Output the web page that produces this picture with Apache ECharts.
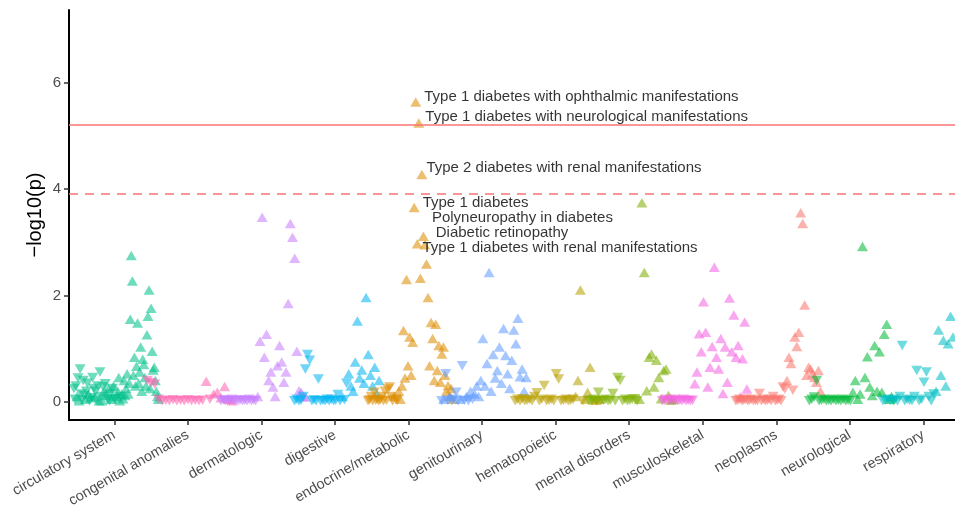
<!DOCTYPE html>
<html><head><meta charset="utf-8">
<script src="https://cdn.jsdelivr.net/npm/echarts@6/dist/echarts.min.js"></script>
<style>html,body{margin:0;padding:0;background:#fff}#c{width:955px;height:510px}</style>
</head><body><div id="c"></div>
<script>
// Phenotype groups (x-axis tick labels)
const categories = ['circulatory system','congenital anomalies','dermatologic','digestive','endocrine/metabolic','genitourinary','hematopoietic','mental disorders','musculoskeletal','neoplasms','neurological','respiratory'];

// Values per phenotype, in plotted order: magnitude = -log10(p);
// sign = direction of effect (+ : up-triangle, - : down-triangle)
const circulatory = [-0.25,-0.05,-0.3,0.1,-0.45,0.02,-0.62,-0.15,-0.04,-0.4,
  -0.12,0.05,-0.2,-0.35,0.15,-0.02,0.08,-0.08,-0.46,-0.25,
  0.1,-0.2,-0.03,-0.3,0.02,-0.56,-0.1,0.02,-0.28,0.2,
  -0.34,0.12,-0.05,0.25,-0.02,-0.15,0.05,-0.25,0.3,-0.05,
  -0.06,0.1,0.2,0.46,0.02,-0.1,0.15,0.06,0.4,0.12,
  0.25,0.53,0.15,0.35,1.55,2.75,2.27,0.5,0.84,0.3,0.67,1.48,0.35,0.56,1.03,0.2,
  0.8,0.7,0.46,0.3,1.26,1.61,2.10,0.25,1.76,0.95,0.6,0.65,0.4,0.2,0.1,0.05];
const congenital = [-0.40,-0.36,-0.33,-0.05,-0.02,-0.03,-0.02,-0.04,-0.02,-0.03,-0.02,-0.04,-0.02,-0.03,-0.02,-0.03,0.39,-0.05,0.15,0.18,0.08,0.29,0.05,0.02];
const dermatologic = [-0.02,-0.04,-0.02,-0.03,-0.02,-0.05,-0.02,-0.03,-0.02,-0.04,-0.02,-0.03,-0.02,-0.05,-0.02,-0.03,-0.02,0.1,1.14,3.47,0.84,1.27,0.4,0.56,0.28,0.1,0.68,1.06,0.75,0.37,0.56,1.85,3.35,3.09,2.70,0.95,0.21,0.18,0.09,0.1];
const digestive = [-0.02,-0.05,-0.02,-0.03,-0.1,-0.62,-0.89,-0.78,-0.02,-0.04,-0.02,-0.43,-0.02,-0.03,-0.02,-0.05,-0.02,-0.05,-0.02,-0.03,-0.14,-0.02,0.1,-0.04,-0.35,0.53,0.3,0.2,0.75,1.52,0.45,0.6,0.35,1.96,0.89,0.5,0.3,0.65,0.15,0.4];
const endocrine = [-0.02,-0.04,-0.1,-0.02,-0.18,-0.03,-0.05,-0.02,-0.04,-0.1,-0.02,-0.2,-0.03,-0.24,-0.28,-0.1,-0.02,0.1,-0.05,-0.03,0.2,
  0.05,0.3,1.34,0.45,2.30,0.68,1.22,0.5,1.12,3.65,5.63,2.97,5.24,2.32,4.27,3.11,2.95,2.59,1.96,0.68,1.49,1.19,0.4,1.46,0.59,1.06,0.37,0.9,1.03,0.5,0.2,0.31,0.1,0.25,0.05];
const genitourinary = [-0.02,0.05,-0.53,-0.03,0.1,-0.02,-0.05,-0.18,-0.02,0.05,-0.68,-0.03,0.1,-0.02,0.2,-0.05,0.15,0.3,0.1,0.4,1.19,0.3,0.72,2.43,0.2,0.89,0.45,0.59,1.03,0.35,1.38,0.87,0.53,0.25,0.78,1.35,1.09,1.57,0.47,0.62,0.2,0.46];
const hematopoietic = [-0.02,-0.05,-0.02,-0.06,-0.02,-0.03,-0.05,-0.02,-0.1,-0.17,-0.02,-0.05,-0.31,-0.02,-0.03,-0.05,-0.02,-0.53,-0.43,-0.02,-0.03,-0.05,-0.02,-0.03,-0.05,0.1,0.40,2.10,-0.02,0.05,0.18,0.65,-0.02,0.03,-0.02,0.05];
const mental = [-0.02,-0.03,-0.05,-0.02,-0.18,-0.02,-0.03,-0.05,-0.02,-0.03,-0.16,-0.02,-0.46,-0.40,-0.02,-0.05,-0.02,-0.03,-0.05,-0.06,-0.02,0.05,3.74,2.43,0.21,0.84,0.9,0.28,0.78,0.46,0.06,0.59,0.62,0.12,0.03,0.05];
const musculoskeletal = [-0.02,-0.03,-0.05,-0.02,-0.03,-0.02,-0.05,-0.02,-0.03,-0.02,-0.05,-0.02,-0.03,-0.02,-0.03,0.34,0.56,1.28,0.94,1.88,1.31,0.28,0.65,1.04,2.53,0.84,0.62,1.19,0.16,1.03,0.37,1.95,0.94,1.63,0.84,1.06,0.09,0.81,1.50,0.24];
const neoplasms = [-0.02,-0.03,-0.05,-0.02,-0.03,-0.05,-0.02,-0.03,-0.05,-0.02,-0.03,-0.02,-0.16,-0.02,-0.05,-0.02,-0.03,-0.05,-0.02,-0.1,-0.02,-0.03,-0.05,-0.02,
  -0.28,-0.24,0.4,0.84,0.72,-0.22,1.22,1.04,1.31,3.55,3.35,1.82,0.5,0.65,0.62,0.53,0.46,0.37,0.59,0.2];
const neurological = [-0.02,-0.05,-0.09,-0.40,-0.02,-0.03,-0.05,-0.02,-0.03,-0.02,-0.05,-0.02,-0.03,-0.02,-0.05,-0.02,-0.03,-0.02,0.18,0.40,0.05,0.15,2.92,0.46,0.85,0.28,0.12,1.06,0.2,0.94,0.18,1.27,1.46,0.05,0.1,-0.02];
const respiratory = [-0.02,-0.03,-0.05,-0.02,-0.03,-0.05,-0.02,-0.1,-1.06,-0.02,-0.05,-0.03,-0.02,-0.1,-0.59,-0.02,-0.05,-0.37,-0.56,-0.1,-0.02,-0.15,0.2,1.35,0.50,1.16,0.3,1.09,1.61,1.22,0.65,0.4,0.2,0.8,0.1,-0.02];

// Annotated phenotypes (endocrine/metabolic)
const hitNames = ['Type 1 diabetes with ophthalmic manifestations','Type 1 diabetes with neurological manifestations','Type 2 diabetes with renal manifestations','Type 1 diabetes','Polyneuropathy in diabetes','Diabetic retinopathy','Type 1 diabetes with renal manifestations'];
const hitValues = [5.63,5.24,4.27,3.65,3.11,2.97,2.95];

// Significance thresholds (-log10 p)
const thresholdSolid = 5.2;
const thresholdDashed = 3.91;
const yTicks = [0,2,4,6];

// ---- styling ----
const groups = [circulatory,congenital,dermatologic,digestive,endocrine,genitourinary,hematopoietic,mental,musculoskeletal,neoplasms,neurological,respiratory];
const colors = ['#00C08B','#FF64B0','#C77CFF','#00B4F0','#DE8C00','#619CFF','#B79F00','#7CAE00','#F564E3','#F8766D','#00BA38','#00BFC4'];
const hitOffsets = [[-2,-5],[-4,-6],[-6,-7],[-2,-5],[-2,-18],[8,-11],[-13,3]];
const FONT = 'Liberation Sans, Arial, sans-serif';
function rgba(hex, a) {
  const n = parseInt(hex.slice(1), 16);
  return 'rgba(' + (n >> 16) + ',' + ((n >> 8) & 255) + ',' + (n & 255) + ',' + a + ')';
}

const series = groups.map((arr, k) => {
  const n = arr.length;
  const data = arr.map((v, i) => {
    const item = {value: [k - 0.05 + 1.15 * i / (n - 1), Math.abs(v)], symbolRotate: v < 0 ? 180 : 0};
    if (k === 4) {
      const h = hitValues.indexOf(v);
      if (h >= 0) {
        item.label = {show: true, formatter: hitNames[h], position: 'right', offset: hitOffsets[h],
          color: '#000', fontSize: 15, fontFamily: FONT};
      }
    }
    return item;
  });
  const s = {
    type: 'scatter', name: categories[k], data,
    symbol: 'triangle', symbolSize: [11, 9.5],
    itemStyle: {color: rgba(colors[k], 0.7)},
    emphasis: {disabled: true}, clip: true, animation: false
  };
  if (k === 0) {
    s.markLine = {
      silent: true, symbol: 'none', animation: false,
      label: {show: false},
      data: [
        {yAxis: thresholdSolid, lineStyle: {type: 'solid', color: '#FA7474', width: 1.6}},
        {yAxis: thresholdDashed, lineStyle: {type: [9, 7], color: '#FA7474', width: 1.6}}
      ]
    };
  }
  return s;
});

const xTicks = categories.map((c, k) => k + 0.5);
const chart = echarts.init(document.getElementById('c'), null, {renderer: 'canvas'});
chart.setOption({
  animation: false,
  backgroundColor: '#fff',
  grid: {left: 69, right: 0, top: 10, bottom: 90, containLabel: false, outerBoundsMode: 'none'},
  xAxis: {
    type: 'value', min: -0.116, max: 11.93,
    axisLine: {onZero: false, lineStyle: {color: '#000', width: 2}},
    axisTick: {customValues: xTicks, length: 5, lineStyle: {color: '#333', width: 1.5}},
    axisLabel: {customValues: xTicks, formatter: v => categories[Math.round(v - 0.5)], rotate: 30,
      color: '#4D4D4D', fontSize: 14.5, margin: 14, fontFamily: FONT},
    splitLine: {show: false}
  },
  yAxis: {
    type: 'value', min: -0.34, max: 7.36,
    name: '\u2212log10(p)', nameLocation: 'middle', nameGap: 24, nameMoveOverlap: false,
    nameTextStyle: {fontSize: 20, color: '#000', fontFamily: FONT},
    axisLine: {onZero: false, lineStyle: {color: '#000', width: 2}},
    axisTick: {customValues: yTicks, length: 5, lineStyle: {color: '#333', width: 1.5}},
    axisLabel: {customValues: yTicks, color: '#4D4D4D', fontSize: 15, margin: 8, fontFamily: FONT},
    splitLine: {show: false}
  },
  series
});
</script></body></html>
